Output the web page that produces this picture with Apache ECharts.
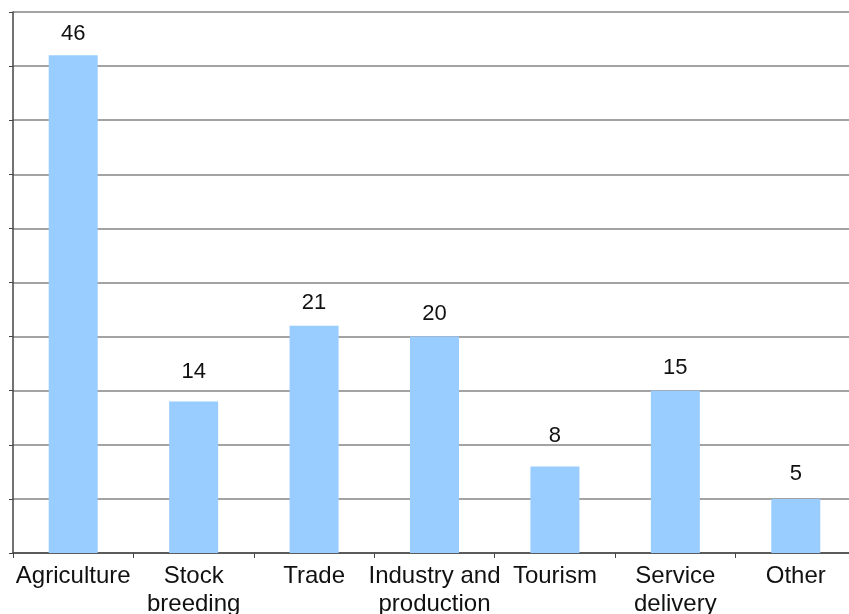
<!DOCTYPE html>
<html>
<head>
<meta charset="utf-8">
<style>
  html, body { margin: 0; padding: 0; background: #fff; }
  #chart { width: 849px; height: 614px; }
</style>
<script src="https://cdn.jsdelivr.net/npm/echarts@6/dist/echarts.min.js"></script>
</head>
<body>
<div id="chart"></div>
<script>
// Sectors and number of enterprises in each
const categories = ['Agriculture', 'Stock\nbreeding', 'Trade', 'Industry and\nproduction', 'Tourism', 'Service\ndelivery', 'Other'];
const counts = [46, 14, 21, 20, 8, 15, 5];
// gap between each bar and its value label
const labelGaps = [10, 19, 12, 12, 20, 12, 14];

const chart = echarts.init(document.getElementById('chart'), null, { renderer: 'canvas' });

chart.setOption({
  animation: false,
  grid: { left: 13, right: -7, top: 12, bottom: 61, containLabel: false, outerBoundsMode: 'none' },
  xAxis: {
    type: 'category',
    data: categories,
    axisLine: { show: true, lineStyle: { color: '#444', width: 1.5 } },
    axisTick: { show: true, length: 5, alignWithLabel: false, lineStyle: { color: '#444' } },
    axisLabel: {
      color: '#111',
      fontFamily: 'Liberation Sans, Arial, sans-serif',
      fontSize: 24,
      lineHeight: 28,
      margin: 9,
      interval: 0
    }
  },
  yAxis: {
    type: 'value',
    min: 0,
    max: 50,
    interval: 5,
    axisLine: { show: true, lineStyle: { color: '#444', width: 1.5 } },
    axisTick: { show: true, inside: false, length: 4, lineStyle: { color: '#444' } },
    axisLabel: { show: false },
    splitLine: { show: true, lineStyle: { color: '#858585', width: 1.5 } }
  },
  series: [{
    type: 'bar',
    data: counts.map((v, i) => ({ value: v, label: { distance: labelGaps[i] } })),
    barWidth: 49,
    itemStyle: { color: '#99CCFF' },
    label: {
      show: true,
      position: 'top',
      color: '#111',
      fontFamily: 'Liberation Sans, Arial, sans-serif',
      fontSize: 22
    }
  }]
});
</script>
</body>
</html>
